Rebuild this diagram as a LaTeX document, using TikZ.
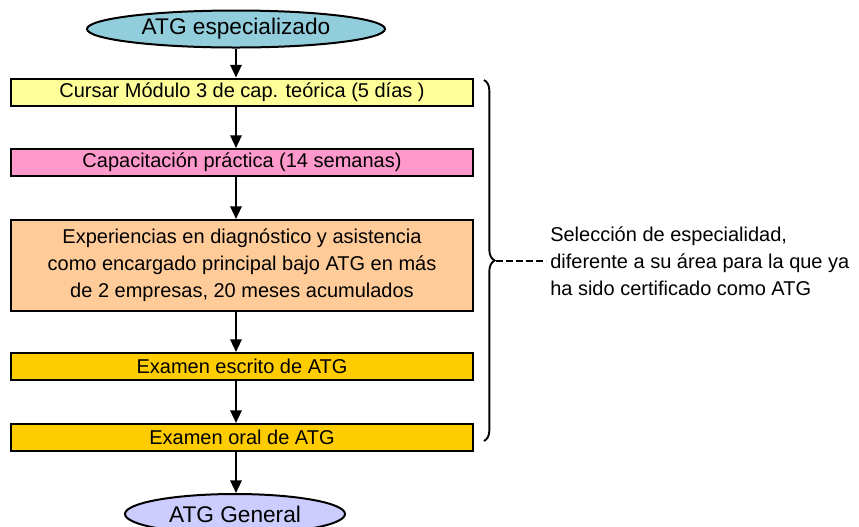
\documentclass[tikz,border=0pt]{standalone}
\usepackage{fontspec}
\setmainfont{Liberation Sans}
\usetikzlibrary{shapes.geometric,arrows.meta,decorations.pathreplacing}

\definecolor{celeste}{RGB}{146,205,220}
\definecolor{amarillo}{RGB}{255,255,153}
\definecolor{rosa}{RGB}{255,153,204}
\definecolor{durazno}{RGB}{255,204,153}
\definecolor{oro}{RGB}{255,204,0}
\definecolor{lila}{RGB}{204,204,255}

\tikzset{
  paso/.style = {draw, line width=1.5pt, minimum width=346.5pt, minimum height=20.25pt,
                 inner sep=0pt, font=\fontsize{15}{20.25}\selectfont, align=center},
  inicio/.style = {draw, ellipse, line width=1.5pt, inner sep=0pt,
                   font=\fontsize{17}{20}\selectfont},
  flecha/.style = {-{Triangle[length=9.5pt,width=8.5pt]}, line width=1.6pt}
}

\begin{document}
\begin{tikzpicture}[x=0.75pt, y=-0.75pt]
    \clip (0,0) rectangle (859,526);
    \useasboundingbox (0,0) rectangle (859,526);

    \node [inicio, fill=celeste, minimum width=223.5pt, minimum height=27.75pt] (esp) at (236,29) {ATG especializado};
    \node [paso, fill=amarillo] (modulo) at (242,92) {Cursar Módulo 3 de cap. teórica (5 días )};
    \node [paso, fill=rosa] (practica) at (242,162.5) {Capacitación práctica (14 semanas)};
    \node [paso, fill=durazno, minimum height=68.25pt] (exper) at (242,265.5)
      {Experiencias en diagnóstico y asistencia\\como encargado principal bajo ATG en más\\de 2 empresas, 20 meses acumulados};
    \node [paso, fill=oro] (escrito) at (242,366.5) {Examen escrito de ATG};
    \node [paso, fill=oro] (oral) at (242,437.5) {Examen oral de ATG};
    \node [inicio, fill=lila, minimum width=165pt, minimum height=30pt] (general) at (235,514) {ATG General};

    \draw [flecha] (esp.south) -- (modulo.north -| esp.south);
    \draw [flecha] (modulo.south -| esp.south) -- (practica.north -| esp.south);
    \draw [flecha] (practica.south -| esp.south) -- (exper.north -| esp.south);
    \draw [flecha] (exper.south -| esp.south) -- (escrito.north -| esp.south);
    \draw [flecha] (escrito.south -| esp.south) -- (oral.north -| esp.south);
    \draw [flecha] (oral.south -| esp.south) -- (general.north -| esp.south);

    \draw [line width=1.4pt, decorate, decoration={brace, amplitude=8pt}] (484,80) -- (484,441);
    \coordinate (punta) at (496,261);
    \node [anchor=west, align=left, inner sep=0pt, font=\fontsize{15}{20.25}\selectfont] (nota) at (550,261)
      {Selección de especialidad,\\diferente a su área para la que ya\\ha sido certificado como ATG};
    \draw [line width=1pt, dash pattern=on 5pt off 2.5pt] (punta) -- ([xshift=-3pt]nota.west);
\end{tikzpicture}
\end{document}
